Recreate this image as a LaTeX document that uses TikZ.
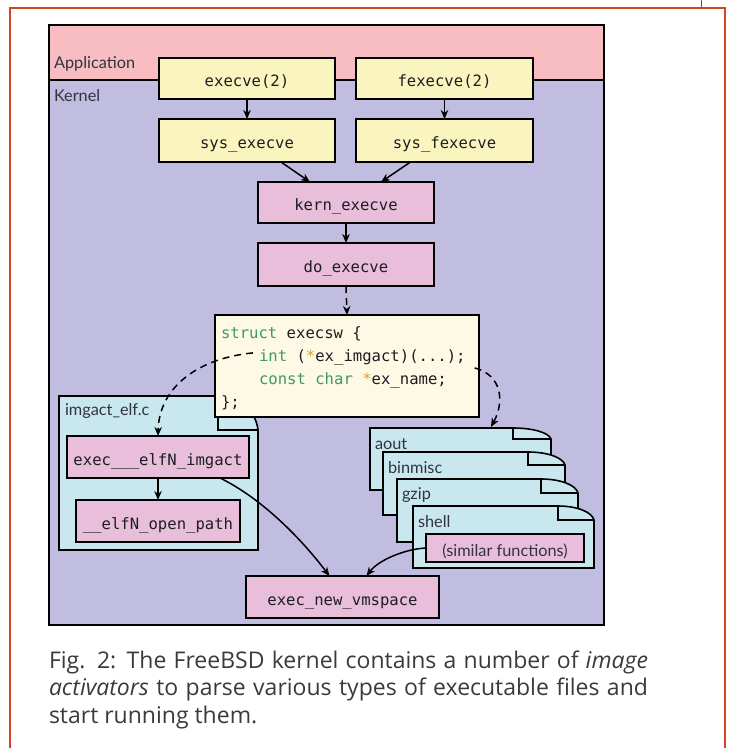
\documentclass[tikz,border=0pt]{standalone}
\usepackage{fontspec}
\setmainfont{Lato}
\newfontfamily\codefont{DejaVu Sans Mono}
\newfontfamily\capfont{Open Sans}
\usetikzlibrary{arrows.meta,calc}

\definecolor{apppink}{HTML}{F8BDC1}
\definecolor{kernpurple}{HTML}{C1BDE0}
\definecolor{ybox}{HTML}{FAF5BF}
\definecolor{pbox}{HTML}{E8BEDB}
\definecolor{cream}{HTML}{FEF9E5}
\definecolor{docblue}{HTML}{C8E7EF}
\definecolor{framered}{HTML}{CF4526}
\definecolor{kwgreen}{HTML}{3F9A62}
\definecolor{stargold}{HTML}{D9A23A}
\definecolor{inktext}{HTML}{1E1E22}
\definecolor{labeltext}{HTML}{33333F}
\definecolor{captext}{HTML}{3A3A3A}

\tikzset{
  every node/.style={inner sep=0pt, outer sep=0pt},
  outline/.style={draw=black, line width=1.6pt},
  lowtext/.style={text height=19pt, text depth=2.4pt},
  fnbox/.style={outline, lowtext, font=\codefont\fontsize{15.6}{18}\selectfont, text=inktext},
  yfn/.style={fnbox, fill=ybox},
  pfn/.style={fnbox, fill=pbox},
  codeline/.style={anchor=base west, font=\codefont\fontsize{15.6}{18}\selectfont, text=inktext},
  lbl/.style={anchor=west, font=\fontsize{16.3}{19}\selectfont, text=labeltext},
  capline/.style={anchor=base west, font=\capfont\fontsize{23}{27}\selectfont, text=captext},
  arr/.style={-{Stealth[length=9pt,width=7.5pt]}, line width=1.5pt},
  dasharr/.style={arr, dash pattern=on 7pt off 5pt},
}

% document shape with a folded top-right corner, built on a node's anchors
\newcommand{\dogear}[3]{%
  \filldraw[outline, fill=docblue] (#1.north west) -- ($(#1.north east)+(-#2,0)$)
    .. controls ($(#1.north east)+(-#2*0.45,0)$) and ($(#1.north east)+(-2,#3*0.45)$) ..
    ($(#1.north east)+(0,#3)$) -- (#1.south east) -- (#1.south west) -- cycle;
  \draw[line width=1.4pt] ($(#1.north east)+(-#2,0)$) -- ($(#1.north east)+(-#2,#3)$)
    -- ($(#1.north east)+(0,#3)$);
}

\begin{document}
\begin{tikzpicture}[x=1pt, y=-1pt]
\useasboundingbox (0,0) rectangle (729,748);

% page frame
\draw[framered, line width=2.2pt] (10,748) -- (10,8) -- (725,8) -- (725,748);
\draw[gray!70!black, line width=0.8pt] (701,0) -- (701,8);

% application / kernel areas
\fill[kernpurple] (49,25) rectangle (604,625);
\fill[apppink] (49,25) rectangle (604,80);
\draw[line width=1.6pt] (49,80) -- (604,80);
\draw[line width=2pt] (49,25) rectangle (604,625);
\node[lbl] (applbl) at (54,64) {Application};
\node[lbl] (kernlbl) at (54,96) {Kernel};

% system call entry points
\node[yfn, minimum width=176pt, minimum height=41pt] (execve) at (247,78.5) {execve(2)};
\node[yfn, minimum width=177pt, minimum height=41pt] (fexecve) at (444.5,78.5) {fexecve(2)};
\node[yfn, minimum width=176pt, minimum height=43pt] (sysexecve) at (247,140.5) {sys\_execve};
\node[yfn, minimum width=177pt, minimum height=43pt] (sysfexecve) at (444.5,140.5) {sys\_fexecve};
\node[pfn, minimum width=176pt, minimum height=41pt] (kern) at (346,202.5) {kern\_execve};
\node[pfn, minimum width=176pt, minimum height=43pt] (doexec) at (346,264.5) {do\_execve};

% ELF image activator source file
\node[minimum width=199pt, minimum height=154pt] (elffile) at (158.5,473) {};
\dogear{elffile}{40}{34}
\node[lbl] (elflbl) at ($(elffile.north west)+(6,15)$) {imgact\_elf.c};
\node[pfn, minimum width=182pt, minimum height=42pt] (elfimg) at (158,457) {exec\_\_\_elfN\_imgact};
\node[pfn, minimum width=164pt, minimum height=42pt] (openpath) at (158,521) {\_\_elfN\_open\_path};

% struct execsw
\node[outline, fill=cream, minimum width=264pt, minimum height=102pt] (execsw) at (347,366) {};
\node[codeline] (cl1) at (221,338) {\textcolor{kwgreen}{struct} execsw \{};
\node[codeline] (cl2) at (259,361) {\textcolor{kwgreen}{int} (\textcolor{stargold}{*}ex\_imgact)(...);};
\node[codeline] (cl3) at (259,384) {\textcolor{kwgreen}{const char} \textcolor{stargold}{*}ex\_name;};
\node[codeline] (cl4) at (221,407) {\};};

% other image activators
\node[minimum width=181pt, minimum height=62pt] (aout) at (460.5,459) {};
\dogear{aout}{38}{11}
\node[lbl] (aoutlbl) at ($(aout.north west)+(5,16)$) {aout};
\node[minimum width=182pt, minimum height=63pt] (binmisc) at (474,483.5) {};
\dogear{binmisc}{37}{13}
\node[lbl] (binmisclbl) at ($(binmisc.north west)+(5,16)$) {binmisc};
\node[minimum width=181pt, minimum height=63pt] (gzip) at (487.5,510.5) {};
\dogear{gzip}{37}{14}
\node[lbl] (gziplbl) at ($(gzip.north west)+(5,16)$) {gzip};
\node[minimum width=181pt, minimum height=62pt] (shell) at (503.5,537) {};
\dogear{shell}{36}{14}
\node[lbl] (shelllbl) at ($(shell.north west)+(5,16)$) {shell};
\node[outline, fill=pbox, minimum width=158pt, minimum height=28pt,
      text height=18pt, text depth=2pt,
      font=\fontsize{16.3}{19}\selectfont, text=labeltext] (simfun) at (505,548) {(similar functions)};

\node[pfn, minimum width=193pt, minimum height=42pt] (vms) at (342.5,597) {exec\_new\_vmspace};

% connectors
\draw[arr] (execve) -- (sysexecve);
\draw[arr] (fexecve) -- (sysfexecve);
\draw[arr] ($(sysexecve.south)+(34,0)$) -- ($(kern.north)+(-36,0)$);
\draw[arr] ($(sysfexecve.south)+(-34,0)$) -- ($(kern.north)+(35,0)$);
\draw[arr] (kern) -- (doexec);
\draw[dasharr] (doexec.south) -- (execsw.north);
\draw[arr] (elfimg) -- (openpath);
\draw[dasharr] ($(cl2.west)+(-6,-4)$) .. controls +(-53,5) and +(1,-50) .. (elfimg.north);
\draw[dasharr] ($(cl2.east)+(9,11)$) .. controls +(27,7) and +(14,-26) .. ($(aout.north west)+(121,-1)$);
\draw[arr] ($(elfimg.south east)+(-29,0)$) .. controls +(45,22) and +(-25,-33) .. ($(vms.north)+(-13,0)$);
\draw[arr] (simfun.west) .. controls +(-21,1) and +(12,-16) .. ($(vms.north)+(24,0)$);

% caption
\node[capline] (cap1) at (49,668) {\hbox to 599pt{Fig. 2: The FreeBSD kernel contains a number of \textit{image}}};
\node[capline] (cap2) at (49,695.5) {\hbox to 599pt{\textit{activators} to parse various types of executable files and}};
\node[capline] (cap3) at (49,723) {start running them.};
\end{tikzpicture}
\end{document}
